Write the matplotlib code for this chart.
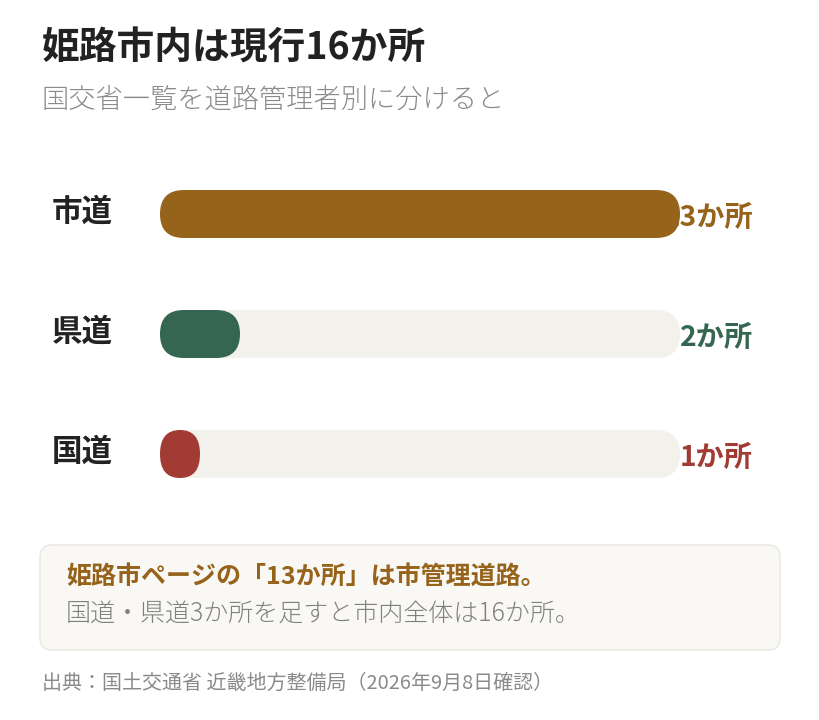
import matplotlib.pyplot as plt
from matplotlib.patches import FancyBboxPatch

plt.rcParams['font.family'] = ['Noto Sans CJK JP', 'DejaVu Sans']

# Data
categories = ['市道', '県道', '国道']
counts = [13, 2, 1]
colors = ['#96631b', '#356651', '#a23b33']
max_count = 13

title = '姫路市内は現行16か所'
subtitle = '国交省一覧を道路管理者別に分けると'
note_head = '姫路市ページの「13か所」は市管理道路。'
note_body = '国道・県道3か所を足すと市内全体は16か所。'
source = '出典：国土交通省 近畿地方整備局（2026年9月8日確認）'

W, H = 820, 720
fig = plt.figure(figsize=(W / 100, H / 100), dpi=100)
fig.patch.set_facecolor('white')

# background axes in pixel coordinates for text and the note box
bg = fig.add_axes([0, 0, 1, 1])
bg.set_xlim(0, W)
bg.set_ylim(H, 0)
bg.axis('off')

bg.text(42, 48, title, fontsize=27.2, fontweight='bold', color='#222222', va='center', ha='left')
bg.text(42, 100, subtitle, fontsize=19.6, color='#8a8a8a', va='center', ha='left', fontweight='light')

box = FancyBboxPatch((40, 545), 740, 105, boxstyle='round,pad=0,rounding_size=12',
                     facecolor='#f9f8f5', edgecolor='#e8e6e0', linewidth=1.0)
bg.add_patch(box)
bg.text(66, 577, note_head, fontsize=18, fontweight='bold', color='#96631b', va='center', ha='left')
bg.text(66, 614, note_body, fontsize=18, color='#808080', va='center', ha='left', fontweight='light')
bg.text(42, 683, source, fontsize=14.4, color='#8a8a8a', va='center', ha='left')

# bar axes: x from 160px to 680px, rows spaced 120px
left_px, right_px = 160, 680
top_px, bot_px = 154, 514
ax = fig.add_axes([left_px / W, 1 - bot_px / H, (right_px - left_px) / W, (bot_px - top_px) / H])
ax.set_xlim(0, max_count)
ax.set_ylim(len(categories) - 0.5, -0.5)
ax.axis('off')
ax.patch.set_alpha(0)

xu = max_count / (right_px - left_px)          # x units per pixel
yu = len(categories) / (bot_px - top_px)       # y units per pixel
bar_h = 48 * yu
r_full = 24 * xu


def pill(x_len, y, color, z):
    r = min(r_full, x_len / 2)
    asp = 24 * yu / r   # keep vertical radius at half the bar height
    p = FancyBboxPatch((0, y - bar_h / 2), x_len, bar_h,
                       boxstyle=f'round,pad=0,rounding_size={r}',
                       mutation_aspect=asp, facecolor=color, edgecolor='none', zorder=z)
    ax.add_patch(p)


for i, (cat, v, c) in enumerate(zip(categories, counts, colors)):
    pill(max_count, i, '#f2f1ec', 1)
    pill(v, i, c, 3)
    ax.text((753 - left_px) * xu, i + 4 * yu, f'{v}か所', fontsize=20.3, fontweight='bold',
            color=c, ha='right', va='center', zorder=2, clip_on=False)
    ax.text((52 - left_px) * xu, i - 2 * yu, cat, fontsize=22, fontweight='bold',
            color='#222222', ha='left', va='center', clip_on=False)

fig.savefig('out.png', dpi=100)
